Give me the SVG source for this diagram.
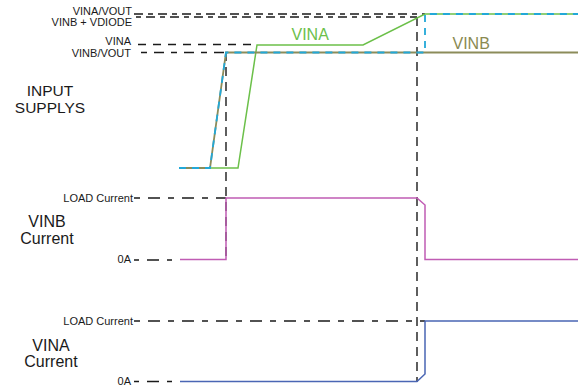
<svg xmlns="http://www.w3.org/2000/svg" width="582" height="389" viewBox="0 0 582 389">
<style>
text{font-family:"Liberation Sans",Arial,sans-serif;fill:#1a1a1a}
.sm{font-size:11px;text-anchor:end}
.big{font-size:15.5px;text-anchor:middle}
.guide{fill:none;stroke:#1a1a1a;stroke-width:1.4;stroke-dasharray:6 8 12 8}
.vguide{fill:none;stroke:#1a1a1a;stroke-width:1.4;stroke-dasharray:9 6}
.vina{fill:none;stroke:#6cc04a;stroke-width:1.5}
.vinb{fill:none;stroke:#8c8c5a;stroke-width:1.8}
.vout{fill:none;stroke:#22a8d8;stroke-width:1.8;stroke-dasharray:7 6}
.ib{fill:none;stroke:#c05cb4;stroke-width:1.5}
.ia{fill:none;stroke:#4a66b4;stroke-width:1.5}
</style>
<rect width="582" height="389" fill="#ffffff"/>
<g id="labels">
<text class="sm" x="132" y="15">VINA/VOUT</text>
<text class="sm" x="132" y="26">VINB + VDIODE</text>
<text class="sm" x="131" y="45">VINA</text>
<text class="sm" x="131" y="56.5">VINB/VOUT</text>
<text class="big" x="50" y="96">INPUT</text>
<text class="big" x="50" y="112.5">SUPPLYS</text>
<text class="sm" x="133" y="201.5">LOAD Current</text>
<text class="sm" x="131" y="263">0A</text>
<text class="big" x="47" y="227" style="font-size:16px">VINB</text>
<text class="big" x="47" y="244" style="font-size:16px">Current</text>
<text class="sm" x="133" y="324.5">LOAD Current</text>
<text class="sm" x="131" y="384.5">0A</text>
<text class="big" x="51" y="351" style="font-size:16px">VINA</text>
<text class="big" x="51" y="367" style="font-size:16px">Current</text>
<text x="291.5" y="40" style="font-size:16px;fill:#6cc04a">VINA</text>
<text x="452.5" y="48.5" style="font-size:16px;fill:#8a8a52">VINB</text>
</g>
<g id="connectors">
<line class="guide" x1="134" y1="14" x2="425" y2="14" style="stroke-dasharray:9 5 5 5"/>
<line class="guide" x1="136" y1="17" x2="417" y2="17" style="stroke-dasharray:5 5 9 5"/>
<line class="guide" x1="138" y1="44.5" x2="252" y2="44.5" style="stroke-dasharray:8 7"/>
<line class="guide" x1="141" y1="52.5" x2="226" y2="52.5" style="stroke-dasharray:6 7 10 7"/>
<line class="guide" x1="134" y1="198" x2="226" y2="198"/>
<line class="guide" x1="134" y1="260" x2="176" y2="260" style="stroke-dasharray:5 8 12 8 5"/>
<line class="guide" x1="134" y1="321" x2="425" y2="321"/>
<line class="guide" x1="134" y1="381.5" x2="176" y2="381.5" style="stroke-dasharray:5 8 12 8 5"/>
<line class="vguide" x1="226" y1="52" x2="226" y2="260"/>
<line class="vguide" x1="417" y1="17" x2="417" y2="382"/>
</g>
<g id="vina-supply">
<polyline class="vina" points="179,168 238,168 257,45 363,45 425,14 578,14"/>
</g>
<g id="vinb-supply">
<polyline class="vinb" points="179,168 210,168 226,52.5 578,52.5"/>
</g>
<g id="vout">
<polyline class="vout" points="179,168 210,168 226,52.5 425,52.5 425,14 578,14"/>
</g>
<g id="vinb-current">
<polyline class="ib" points="180,259.5 226,259.5 226,198 417,198 425,205 425,259.5 578,259.5"/>
</g>
<g id="vina-current">
<polyline class="ia" points="180,381.5 417,381.5 425,374 425,321 578,321"/>
</g>
</svg>
